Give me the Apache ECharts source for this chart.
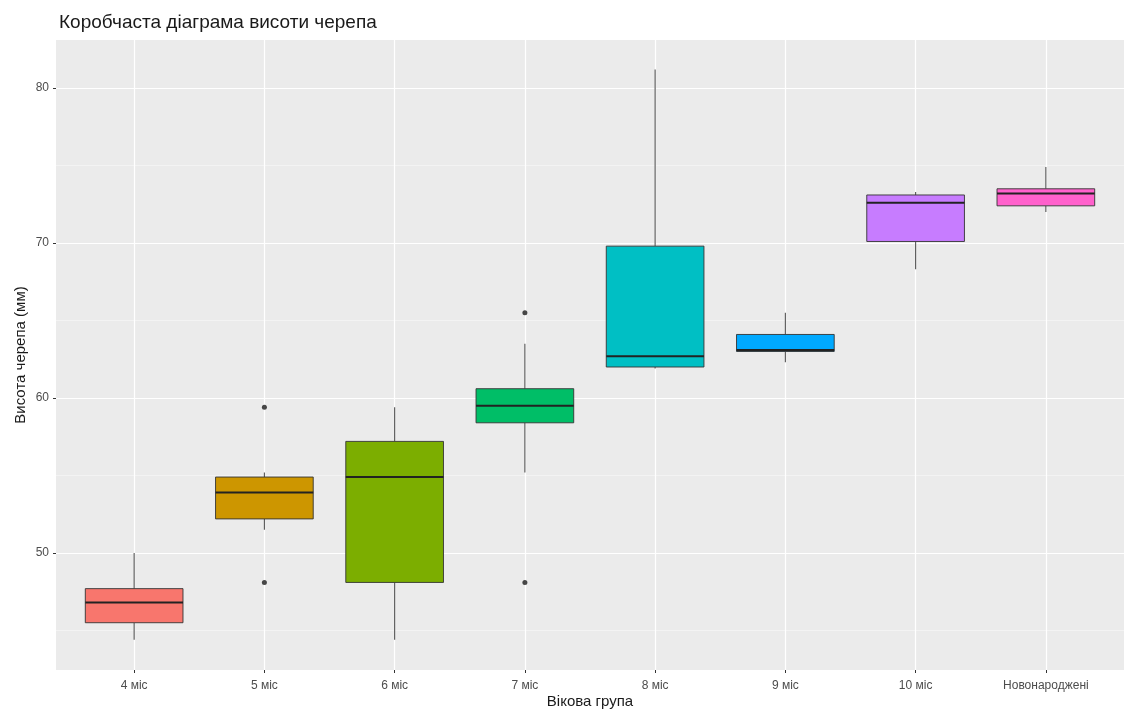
<!DOCTYPE html>
<html>
<head>
<meta charset="utf-8">
<script src="https://cdn.jsdelivr.net/npm/echarts@6/dist/echarts.min.js"></script>
<style>
html,body{margin:0;padding:0;background:#fff;}
#chart{width:1124px;height:711px;}
</style>
</head>
<body>
<div id="chart"></div>
<script>
// Categories (age groups)
const categories = ['4 міс', '5 міс', '6 міс', '7 міс', '8 міс', '9 міс', '10 міс', 'Новонароджені'];
// Box statistics per category: [min, q1, median, q3, max]
const boxStats = [
  [44.4, 45.5, 46.8, 47.7, 50.0],
  [51.5, 52.2, 53.9, 54.9, 55.2],
  [44.4, 48.1, 54.9, 57.2, 59.4],
  [55.2, 58.4, 59.5, 60.6, 63.5],
  [61.9, 62.0, 62.7, 69.8, 81.2],
  [62.3, 63.0, 63.1, 64.1, 65.5],
  [68.3, 70.1, 72.6, 73.1, 73.3],
  [72.0, 72.4, 73.2, 73.5, 74.9]
];
// Outliers: [category index, value]
const outliers = [
  [1, 59.4], [1, 48.1],
  [3, 65.5], [3, 48.1]
];
const fillColors = ['#F8766D', '#CD9600', '#7CAE00', '#00BE67', '#00BFC4', '#00A9FF', '#C77CFF', '#FF61CC'];
const yTicks = [50, 60, 70, 80];
const yMinor = [45, 55, 65, 75];
const title = 'Коробчаста діаграма висоти черепа';
const xTitle = 'Вікова група';
const yTitle = 'Висота черепа (мм)';

const boxData = boxStats.map((s, i) => [i + 1].concat(s));
const outlierData = outliers.map(o => [o[0] + 1, o[1]]);
const xPositions = categories.map((c, i) => i + 1);

const chart = echarts.init(document.getElementById('chart'), null, {renderer: 'canvas'});
const FONT = '"Liberation Sans", Arial, sans-serif';
const halfW = 0.375;

const gridLines = [];
yMinor.forEach(v => gridLines.push({yAxis: v, lineStyle: {color: '#f6f6f6', width: 0.7, type: 'solid'}}));
yTicks.forEach(v => gridLines.push({yAxis: v, lineStyle: {color: '#ffffff', width: 1.2, type: 'solid'}}));
xPositions.forEach(v => gridLines.push({xAxis: v, lineStyle: {color: '#ffffff', width: 1.2, type: 'solid'}}));

chart.setOption({
  animation: false,
  backgroundColor: '#ffffff',
  title: {
    text: title,
    left: 54, top: 8,
    textStyle: {fontFamily: FONT, fontSize: 19, fontWeight: 'normal', color: '#1a1a1a'}
  },
  grid: {
    left: 56, right: 0, top: 40, bottom: 41,
    outerBoundsMode: 'none', containLabel: false,
    show: true, backgroundColor: '#EBEBEB', borderWidth: 0
  },
  xAxis: {
    type: 'value', min: 0.4, max: 8.6,
    name: xTitle, nameLocation: 'middle', nameGap: 24, nameMoveOverlap: false,
    nameTextStyle: {fontFamily: FONT, fontSize: 15, color: '#1a1a1a'},
    axisLine: {show: false},
    axisTick: {show: true, length: 3, lineStyle: {color: '#333333'}, customValues: xPositions},
    axisLabel: {
      customValues: xPositions, margin: 10,
      fontFamily: FONT, fontSize: 12, color: '#4D4D4D',
      formatter: v => categories[Math.round(v) - 1] || ''
    },
    splitLine: {show: false}
  },
  yAxis: {
    type: 'value', min: 42.45, max: 83.1,
    name: yTitle, nameLocation: 'middle', nameGap: 28, nameMoveOverlap: false,
    nameTextStyle: {fontFamily: FONT, fontSize: 15, color: '#1a1a1a'},
    axisLine: {show: false},
    axisTick: {show: true, length: 3, lineStyle: {color: '#333333'}, customValues: yTicks},
    axisLabel: {customValues: yTicks, margin: 7, fontFamily: FONT, fontSize: 12, color: '#4D4D4D'},
    splitLine: {show: false}
  },
  series: [
    {
      type: 'line', data: [], z: 0, zlevel: 0, silent: true,
      markLine: {silent: true, z: 0, symbol: ['none', 'none'], label: {show: false}, data: gridLines, animation: false}
    },
    {
      type: 'custom', z: 5,
      data: boxData,
      encode: {x: 0, y: [1, 2, 3, 4, 5]},
      renderItem: function (params, api) {
        const x = api.value(0);
        const i = params.dataIndex;
        const pMin = api.coord([x, api.value(1)]);
        const pQ1 = api.coord([x, api.value(2)]);
        const pMed = api.coord([x, api.value(3)]);
        const pQ3 = api.coord([x, api.value(4)]);
        const pMax = api.coord([x, api.value(5)]);
        const left = api.coord([x - halfW, 0])[0];
        const right = api.coord([x + halfW, 0])[0];
        const wStyle = {stroke: '#555555', lineWidth: 1.1};
        return {
          type: 'group',
          children: [
            {type: 'line', shape: {x1: pMax[0], y1: pMax[1], x2: pQ3[0], y2: pQ3[1]}, style: wStyle},
            {type: 'line', shape: {x1: pQ1[0], y1: pQ1[1], x2: pMin[0], y2: pMin[1]}, style: wStyle},
            {type: 'rect', shape: {x: left, y: pQ3[1], width: right - left, height: pQ1[1] - pQ3[1]},
              style: {fill: fillColors[i], stroke: '#333333', lineWidth: 0.9}},
            {type: 'line', shape: {x1: left, y1: pMed[1], x2: right, y2: pMed[1]},
              style: {stroke: '#222222', lineWidth: 2}}
          ]
        };
      }
    },
    {
      type: 'scatter', z: 6,
      data: outlierData,
      symbol: 'circle', symbolSize: 5,
      itemStyle: {color: '#1a1a1a'}
    }
  ]
});
</script>
</body>
</html>
